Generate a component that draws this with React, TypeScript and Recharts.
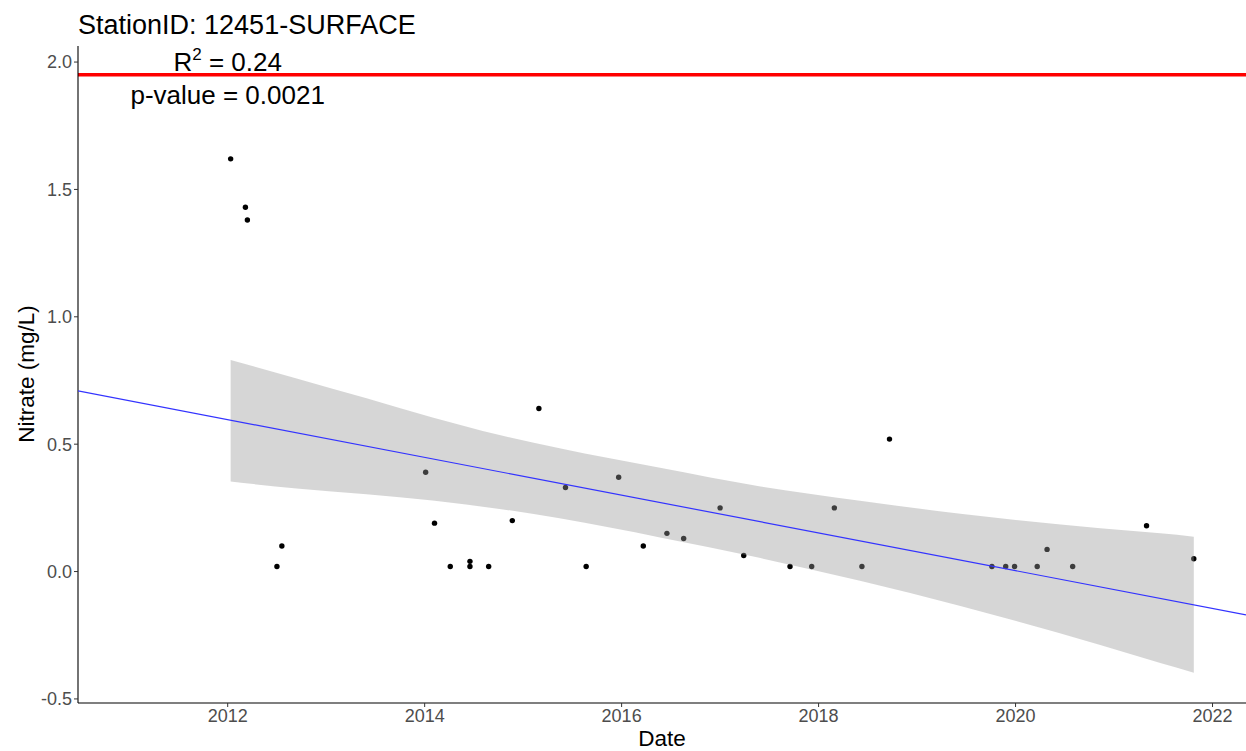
import React from 'react';
import {
  ComposedChart,
  Area,
  Line,
  Scatter,
  XAxis,
  YAxis,
  ReferenceLine,
  ReferenceDot,
} from 'recharts';

// sample dates (decimal years) and nitrate values
const sampleDates = [
  2012.03, 2012.18, 2012.2, 2012.5, 2012.55, 2014.01, 2014.1, 2014.26, 2014.46, 2014.46, 2014.65,
  2014.89, 2015.16, 2015.43, 2015.64, 2015.97, 2016.22, 2016.46, 2016.63, 2017.0, 2017.24, 2017.71,
  2017.93, 2018.16, 2018.44, 2018.72, 2019.76, 2019.9, 2019.99, 2020.22, 2020.32, 2020.58, 2021.33,
  2021.81,
];
const nitrate = [
  1.62, 1.43, 1.38, 0.02, 0.1, 0.39, 0.19, 0.02, 0.04, 0.02, 0.02, 0.2, 0.64, 0.33, 0.02, 0.37, 0.1,
  0.15, 0.13, 0.25, 0.063, 0.02, 0.02, 0.25, 0.02, 0.52, 0.02, 0.02, 0.02, 0.02, 0.087, 0.02, 0.18,
  0.05,
];

// confidence band of the linear fit
const bandDates = [
  2012.03, 2012.7, 2013.41, 2014.08, 2014.76, 2015.37, 2016.39, 2017.41, 2018.42, 2019.44, 2020.86,
  2021.47, 2021.81,
];
const bandUpper = [0.83, 0.758, 0.68, 0.605, 0.536, 0.484, 0.407, 0.334, 0.278, 0.227, 0.17, 0.15, 0.137];
const bandLower = [0.353, 0.326, 0.303, 0.279, 0.246, 0.209, 0.134, 0.053, -0.036, -0.135, -0.288, -0.359, -0.397];

// fitted trend line across the panel
const trendDates = [2010.48, 2022.34];
const trendValues = [0.709, -0.17];

const threshold = 1.95;
const xTicks = [2012, 2014, 2016, 2018, 2020, 2022];
const yTicks = [-0.5, 0, 0.5, 1.0, 1.5, 2.0];
const statsLabels = [
  { x: 2012, y: 2.0, key: 'r2' },
  { x: 2012, y: 1.87, key: 'p' },
];

const FONT = '"Liberation Sans", Arial, sans-serif';

export default function App() {
  const points = sampleDates.map((x, i) => ({ x, y: nitrate[i] }));
  const band = bandDates.map((x, i) => ({ x, band: [bandLower[i], bandUpper[i]] }));
  const trend = trendDates.map((x, i) => ({ x, y: trendValues[i] }));

  return (
    <div style={{ position: 'absolute', left: 0, top: 0, width: 1246, height: 751, background: '#fff' }}>
      <ComposedChart
        width={1246}
        height={751}
        data={band}
        margin={{ top: 46, right: 0, bottom: 0, left: 0 }}
        style={{ fontFamily: FONT }}
      >
        <XAxis
          dataKey="x"
          type="number"
          domain={[2010.48, 2022.34]}
          allowDataOverflow
          ticks={xTicks}
          height={48}
          tickSize={4}
          tick={{ fill: '#4d4d4d', fontSize: 18 }}
          tickLine={{ stroke: '#333' }}
          axisLine={{ stroke: '#000', strokeWidth: 1.1 }}
        />
        <YAxis
          type="number"
          domain={[-0.516, 2.063]}
          allowDataOverflow
          ticks={yTicks}
          width={78}
          tickSize={4}
          tickFormatter={(v: number) => v.toFixed(1)}
          tick={{ fill: '#4d4d4d', fontSize: 18 }}
          tickLine={{ stroke: '#333' }}
          axisLine={{ stroke: '#000', strokeWidth: 1.1 }}
        />
        <Scatter
          data={points}
          dataKey="y"
          isAnimationActive={false}
          zIndex={200}
          shape={(p: any) => <circle cx={p.cx} cy={p.cy} r={2.7} fill="#000" />}
        />
        <Area
          dataKey="band"
          type="monotone"
          stroke="none"
          fill="#999999"
          fillOpacity={0.4}
          isAnimationActive={false}
          activeDot={false}
          zIndex={650}
        />
        <Line
          data={trend}
          dataKey="y"
          type="linear"
          stroke="#3333ff"
          strokeWidth={1.2}
          dot={false}
          activeDot={false}
          isAnimationActive={false}
          zIndex={700}
        />
        <ReferenceLine y={threshold} stroke="#ff0000" strokeWidth={3.5} />
        {statsLabels.map((l) => (
          <ReferenceDot
            key={l.key}
            x={l.x}
            y={l.y}
            r={0}
            shape={(p: any) =>
              l.key === 'r2' ? (
                <text x={p.cx} y={p.cy + 9} textAnchor="middle" fontSize={26} fill="#000" fontFamily={FONT}>
                  R<tspan fontSize={17} dy={-11}>2</tspan>
                  <tspan dy={11}> = 0.24</tspan>
                </text>
              ) : (
                <text x={p.cx} y={p.cy + 9} textAnchor="middle" fontSize={26} fill="#000" fontFamily={FONT}>
                  p-value = 0.0021
                </text>
              )
            }
          />
        ))}
        <text x={78} y={34} fontSize={27} fill="#000" fontFamily={FONT}>
          StationID: 12451-SURFACE
        </text>
        <text x={662} y={746} textAnchor="middle" fontSize={22.5} fill="#000" fontFamily={FONT}>
          Date
        </text>
        <text
          x={34}
          y={374}
          textAnchor="middle"
          fontSize={22.5}
          fill="#000"
          fontFamily={FONT}
          transform="rotate(-90 34 374)"
        >
          Nitrate (mg/L)
        </text>
      </ComposedChart>
    </div>
  );
}
